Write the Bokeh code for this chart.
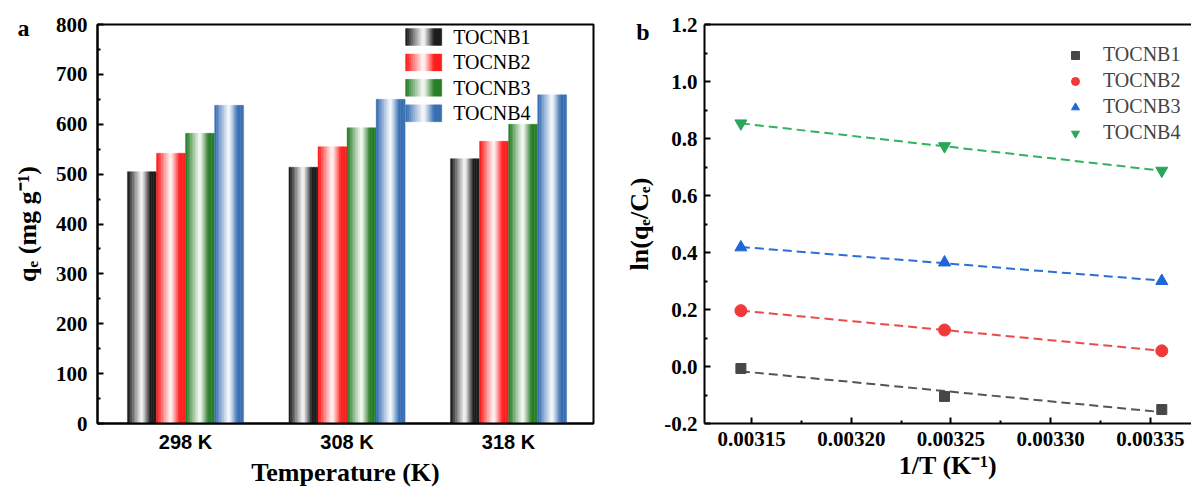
import numpy as np
from bokeh.plotting import figure
from bokeh.layouts import row
from bokeh.models import (FixedTicker, PrintfTickFormatter, Legend, LegendItem,
                          Range1d, ColumnDataSource, LinearAxis)
from bokeh.core.properties import value
from bokeh.embed import file_html
from bokeh.resources import INLINE

# ---------------- data ----------------
temps = ["298 K", "308 K", "318 K"]
samples = ["TOCNB1", "TOCNB2", "TOCNB3", "TOCNB4"]
qe_TOCNB1 = [505, 514, 531]
qe_TOCNB2 = [542, 555, 566]
qe_TOCNB3 = [582, 593, 600]
qe_TOCNB4 = [638, 650, 659]

T_kelvin = [318, 308, 298]
lnK_TOCNB1 = [-0.007, -0.105, -0.151]
lnK_TOCNB2 = [0.196, 0.128, 0.055]
lnK_TOCNB3 = [0.418, 0.365, 0.300]
lnK_TOCNB4 = [0.853, 0.773, 0.687]

bar_values = [qe_TOCNB1, qe_TOCNB2, qe_TOCNB3, qe_TOCNB4]
ln_values = [lnK_TOCNB1, lnK_TOCNB2, lnK_TOCNB3, lnK_TOCNB4]

SERIF = "Liberation Serif"
SANS = "Liberation Sans"

bar_colors = ["#1e1e1e", "#ff1f1f", "#2a7e2a", "#3a70b4"]
marker_colors = ["#474747", "#f03a3a", "#1f66d8", "#2aa55a"]
line_colors = ["#555555", "#ea4a4a", "#2b6fd6", "#34b062"]
markers = ["square", "circle", "triangle", "inverted_triangle"]
marker_sizes = [10, 12, 12, 12]


def shade(hex_color, t):
    r, g, b = (int(hex_color[i:i + 2], 16) for i in (1, 3, 5))
    if t < 0.5:
        w = np.clip((t - 0.05) / 0.45, 0, 1)
    else:
        w = np.clip(1 - (t - 0.5) / 0.28, 0, 1)
    w = float(w) ** 0.9
    rr = int(r + (255 - r) * w)
    gg = int(g + (255 - g) * w)
    bb = int(b + (255 - b) * w)
    return "#%02x%02x%02x" % (rr, gg, bb)


NS = 18


def gradient_quads(lefts, rights, bottoms, tops, color):
    L, R, B, T, C = [], [], [], [], []
    for l, r, b, t in zip(lefts, rights, bottoms, tops):
        step = (r - l) / NS
        for k in range(NS):
            L.append(l + k * step)
            R.append(l + (k + 1) * step + step * 0.15 if k < NS - 1 else r)
            B.append(b)
            T.append(t)
            C.append(shade(color, (k + 0.5) / NS))
    return dict(left=L, right=R, bottom=B, top=T, color=C)


def style_axis(ax, label_size="26px"):
    ax.axis_line_width = 2
    ax.axis_line_color = "black"
    ax.major_tick_in = 6
    ax.major_tick_out = 0
    ax.minor_tick_in = 3
    ax.minor_tick_out = 0
    ax.major_tick_line_width = 2
    ax.minor_tick_line_width = 2
    ax.major_label_text_font = SERIF
    ax.major_label_text_font_style = "bold"
    ax.major_label_text_font_size = "21px"
    ax.major_label_text_color = "black"
    ax.axis_label_text_font = SERIF
    ax.axis_label_text_font_style = "bold"
    ax.axis_label_text_font_size = label_size
    ax.axis_label_text_color = "black"


def style_fig(p):
    p.grid.visible = False
    p.outline_line_color = "black"
    p.outline_line_width = 2
    p.background_fill_color = "white"
    p.border_fill_color = "white"


def panel_letter(p, letter, yval, standoff):
    ax = LinearAxis(ticker=FixedTicker(ticks=[yval]),
                    major_label_overrides={yval: letter},
                    axis_line_color=None, major_tick_in=0, major_tick_out=0,
                    minor_tick_in=0, minor_tick_out=0,
                    major_label_standoff=standoff,
                    major_label_text_font=SERIF, major_label_text_font_style="bold",
                    major_label_text_font_size="24px", major_label_text_color="black")
    p.add_layout(ax, "left")


# ---------------- panel a ----------------
pa = figure(width=600, height=489, output_backend="svg", toolbar_location=None,
            x_range=Range1d(0.455, 3.526), y_range=Range1d(0, 800),
            min_border_left=97, min_border_right=7, min_border_top=24,
            min_border_bottom=64)
style_fig(pa)
ax_a, ay_a = pa.xaxis[0], pa.yaxis[0]
style_axis(ax_a)
style_axis(ay_a, "26px")

bw = 0.18
xc = np.arange(1, len(temps) + 1)
for i, vals in enumerate(bar_values):
    lefts = xc + (i - 2) * bw
    src = ColumnDataSource(gradient_quads(lefts, lefts + bw, [0] * len(vals), vals,
                                          bar_colors[i]))
    pa.quad(left="left", right="right", bottom="bottom", top="top", source=src,
            fill_color="color", line_color="color", line_width=0.3)

# legend (a), drawn as gradient swatches
leg_x0, leg_w = 2.362, 0.225
leg_y = [775, 724, 673, 622]
leg_h = 34
for i, name in enumerate(samples):
    src = ColumnDataSource(gradient_quads([leg_x0], [leg_x0 + leg_w],
                                          [leg_y[i] - leg_h / 2], [leg_y[i] + leg_h / 2],
                                          bar_colors[i]))
    pa.quad(left="left", right="right", bottom="bottom", top="top", source=src,
            fill_color="color", line_color="color", line_width=0.3)
pa.text(x=[leg_x0 + leg_w + 0.07] * 4, y=leg_y, text=samples,
        text_font=value(SERIF), text_font_size="20px", text_baseline="middle",
        text_align="left", text_color="black")

ax_a.ticker = FixedTicker(ticks=list(xc))
ax_a.major_label_overrides = {int(x): t for x, t in zip(xc, temps)}
ax_a.major_tick_in = 0
ax_a.major_label_text_font = SANS
ax_a.major_label_text_font_size = "20px"
ax_a.major_label_standoff = 7
ax_a.axis_label = "Temperature (K)"
ax_a.axis_label_standoff = 2
ay_a.ticker = FixedTicker(ticks=list(range(0, 801, 100)),
                          minor_ticks=list(range(50, 800, 100)))
ay_a.major_label_standoff = 10
ay_a.axis_label = "qₑ (mg g⁻¹)"
ay_a.axis_label_standoff = 11
panel_letter(pa, "a", 792, -20)

# ---------------- panel b ----------------
invT = [1.0 / t for t in T_kelvin]
pb = figure(width=591, height=489, output_backend="svg", toolbar_location=None,
            x_range=Range1d(0.0031264, 0.0033706), y_range=Range1d(-0.2, 1.2),
            min_border_left=104, min_border_right=0, min_border_top=23,
            min_border_bottom=64)
style_fig(pb)
ax_b, ay_b = pb.xaxis[0], pb.yaxis[0]
style_axis(ax_b)
style_axis(ay_b, "26px")
pb.outline_line_color = None
top_axis = LinearAxis(ticker=FixedTicker(ticks=[]), axis_line_width=2,
                      axis_line_color="black",
                      major_tick_in=0, major_tick_out=0, minor_tick_in=0,
                      minor_tick_out=0, major_label_text_font_size="0px")
pb.add_layout(top_axis, "above")

items = []
for i, vals in enumerate(ln_values):
    k, c0 = np.polyfit(invT, vals, 1)
    xs = [min(invT), max(invT)]
    pb.line(xs, [k * x + c0 for x in xs], line_color=line_colors[i], line_width=2,
            line_dash="9 5")
    r = pb.scatter(invT, vals, marker=markers[i], size=marker_sizes[i],
                   fill_color=marker_colors[i], line_color=marker_colors[i])
    items.append(LegendItem(label=samples[i], renderers=[r]))

leg = Legend(items=items, location=(361, 279), label_text_font=SERIF,
             label_text_font_size="20px", glyph_width=20, glyph_height=20,
             label_standoff=18, spacing=3, padding=10, border_line_color=None,
             background_fill_alpha=0)
pb.add_layout(leg)

ax_b.ticker = FixedTicker(ticks=[0.00315, 0.00320, 0.00325, 0.00330, 0.00335],
                          minor_ticks=[0.003125, 0.003175, 0.003225, 0.003275,
                                       0.003325, 0.003375])
ax_b.formatter = PrintfTickFormatter(format="%.5f")
ax_b.major_label_standoff = 8
ax_b.axis_label = "1/T (K⁻¹)"
ax_b.axis_label_standoff = 2
ay_b.ticker = FixedTicker(ticks=[-0.2, 0.0, 0.2, 0.4, 0.6, 0.8, 1.0, 1.2],
                          minor_ticks=[-0.1, 0.1, 0.3, 0.5, 0.7, 0.9, 1.1])
ay_b.formatter = PrintfTickFormatter(format="%.1f")
ay_b.major_label_standoff = 7
ay_b.axis_label = "ln(qₑ/Cₑ)"
ay_b.axis_label_standoff = 7
panel_letter(pb, "b", 1.172, -27)

layout = row(pa, pb)
open("out.html", "w").write(file_html(layout, INLINE))
